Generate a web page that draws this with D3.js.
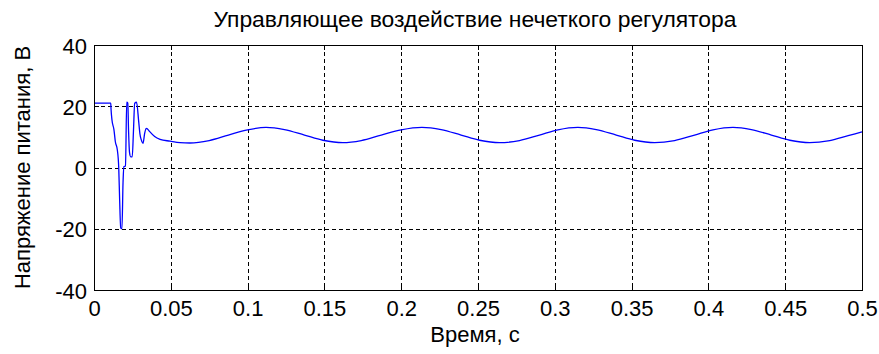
<!DOCTYPE html>
<html>
<head>
<meta charset="utf-8">
<script src="https://cdn.jsdelivr.net/npm/d3@7"></script>
<style>
  html, body { margin: 0; padding: 0; background: #fff; }
  svg { display: block; }
  text { font-family: "Liberation Sans", Arial, sans-serif; fill: #000; }
</style>
</head>
<body>
<svg id="chart" width="879" height="354"></svg>
<script>
// Control signal of the fuzzy regulator: time (s) and supply voltage (V)
const timeS = [
  0.0000, 0.0109, 0.0111, 0.0117, 0.0130, 0.0139, 0.0152, 0.0161, 0.0167, 0.0174,
  0.0182, 0.0189, 0.0195, 0.0205, 0.0213, 0.0220, 0.0225, 0.0231, 0.0239, 0.0249,
  0.0257, 0.0265, 0.0277, 0.0291, 0.0299, 0.0308, 0.0319, 0.0330, 0.0340, 0.0348,
  0.0363, 0.0395, 0.0430, 0.0495, 0.0560, 0.0625,
  0.075, 0.0875, 0.100, 0.112, 0.124, 0.137, 0.149, 0.162, 0.174, 0.187,
  0.200, 0.2135, 0.226, 0.239, 0.251, 0.264, 0.277, 0.290, 0.302, 0.315,
  0.327, 0.340, 0.352, 0.365, 0.378, 0.391, 0.403, 0.416, 0.428, 0.441,
  0.453, 0.466, 0.479, 0.491, 0.500
];
const voltageV = [
  21.0, 21.0, 19.0, 15.5, 12.3, 8.4, 5.7, 0.0, -10.6, -19.8,
  -20.0, -5.0, 0.3, 0.5, 21.3, 21.0, 12.0, 5.0, 3.5, 3.5,
  12.0, 21.0, 21.3, 15.0, 11.0, 9.0, 7.9, 11.2, 12.8, 12.6,
  11.7, 10.1, 9.2, 8.6, 8.1, 8.0,
  8.8, 10.6, 12.3, 13.1, 12.4, 10.6, 8.9, 8.1, 8.8, 10.6,
  12.3, 13.1, 12.4, 10.6, 8.9, 8.1, 8.8, 10.6, 12.3, 13.1,
  12.4, 10.6, 8.9, 8.1, 8.8, 10.6, 12.3, 13.1, 12.4, 10.6,
  8.9, 8.1, 8.8, 10.4, 11.6
];
const xTicks = [0, 0.05, 0.1, 0.15, 0.2, 0.25, 0.3, 0.35, 0.4, 0.45, 0.5];
const yTicks = [-40, -20, 0, 20, 40];
const titleText = "Управляющее воздействие нечеткого регулятора";
const xLabelText = "Время, с";
const yLabelText = "Напряжение питания, В";

const svg = d3.select("#chart");
const plot = { left: 94, right: 862, top: 45, bottom: 290 };
const fontPx = 22;

const x = d3.scaleLinear().domain([0, 0.5]).range([plot.left, plot.right]);
const y = d3.scaleLinear().domain([-40, 40]).range([plot.bottom, plot.top]);

svg.append("rect").attr("width", 879).attr("height", 354).attr("fill", "#fff");

// dashed grid
const grid = svg.append("g").attr("stroke", "#000").attr("stroke-width", 1)
  .attr("stroke-dasharray", "4,3").attr("shape-rendering", "crispEdges");
grid.selectAll(".gx").data(xTicks.slice(1, -1)).join("line")
  .attr("x1", d => Math.round(x(d)) + 0.5).attr("x2", d => Math.round(x(d)) + 0.5)
  .attr("y1", plot.top).attr("y2", plot.bottom);
grid.selectAll(".gy").data(yTicks.slice(1, -1)).join("line")
  .attr("y1", d => Math.round(y(d)) + 0.5).attr("y2", d => Math.round(y(d)) + 0.5)
  .attr("x1", plot.left).attr("x2", plot.right);

// signal
const line = d3.line().x((d, i) => x(timeS[i])).y(d => y(d)).curve(d3.curveMonotoneX);
svg.append("path").datum(voltageV)
  .attr("d", line).attr("fill", "none")
  .attr("stroke", "#0000ff").attr("stroke-width", 1.3);

// axes with inward ticks on all sides
const tickLen = 5;
const axB = svg.append("g").attr("transform", `translate(0,${plot.bottom})`)
  .call(d3.axisBottom(x).tickValues(xTicks).tickSizeInner(-tickLen).tickSizeOuter(0).tickFormat(d => String(d)));
const axT = svg.append("g").attr("transform", `translate(0,${plot.top})`)
  .call(d3.axisTop(x).tickValues(xTicks).tickSizeInner(-tickLen).tickSizeOuter(0).tickFormat(""));
const axL = svg.append("g").attr("transform", `translate(${plot.left},0)`)
  .call(d3.axisLeft(y).tickValues(yTicks).tickSizeInner(-tickLen).tickSizeOuter(0).tickFormat(d => String(d)));
const axR = svg.append("g").attr("transform", `translate(${plot.right},0)`)
  .call(d3.axisRight(y).tickValues(yTicks).tickSizeInner(-tickLen).tickSizeOuter(0).tickFormat(""));
[axB, axT, axL, axR].forEach(g => {
  g.select(".domain").remove();
  g.selectAll("line").attr("stroke", "#000").attr("shape-rendering", "crispEdges");
});

axB.selectAll("text")
  .attr("y", 26).attr("dy", null)
  .style("font-size", fontPx + "px")
  .attr("text-anchor", "middle");
axL.selectAll("text")
  .attr("x", -7).attr("dy", 8)
  .style("font-size", fontPx + "px")
  .attr("text-anchor", "end");

// frame
svg.append("rect")
  .attr("x", plot.left + 0.5).attr("y", plot.top + 0.5)
  .attr("width", plot.right - plot.left).attr("height", plot.bottom - plot.top)
  .attr("fill", "none").attr("stroke", "#000").attr("stroke-width", 1)
  .attr("shape-rendering", "crispEdges");

// title and axis labels
const cx = (plot.left + plot.right) / 2 - 3;
svg.append("text").text(titleText)
  .attr("text-anchor", "middle").style("font-size", fontPx + "px")
  .attr("transform", `translate(${cx},27) scale(1.04,1)`);
svg.append("text").text(xLabelText)
  .attr("text-anchor", "middle").style("font-size", fontPx + "px")
  .attr("transform", `translate(${cx},342)`);
svg.append("text").text(yLabelText)
  .attr("text-anchor", "middle").style("font-size", fontPx + "px")
  .attr("transform", `translate(30,${(plot.top + plot.bottom) / 2}) rotate(-90)`);
</script>
</body>
</html>
